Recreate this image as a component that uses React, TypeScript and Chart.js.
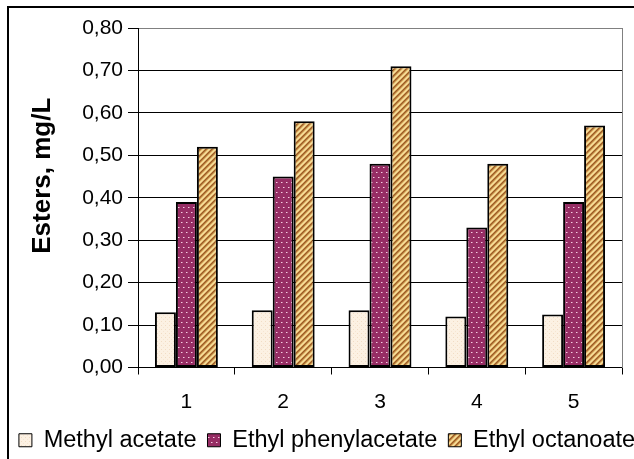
import React, { useEffect, useRef } from "react";
import { Chart, registerables } from "chart.js";

Chart.register(...registerables);

// Samples on the x axis
const categories = ["1", "2", "3", "4", "5"];

// Ester concentrations, mg/L
const methylAcetate = [0.13, 0.135, 0.135, 0.12, 0.125];
const ethylPhenylacetate = [0.39, 0.45, 0.48, 0.33, 0.39];
const ethylOctanoate = [0.52, 0.58, 0.71, 0.48, 0.57];

const seriesNames = ["Methyl acetate", "Ethyl phenylacetate", "Ethyl octanoate"];

// Value axis range
const yMin = 0;
const yMax = 0.8;
const yStep = 0.1;
const yAxisTitle = "Esters, mg/L";

const FONT = "'Liberation Sans', Arial, Helvetica, sans-serif";

function tile(w: number, h: number, paint: (g: CanvasRenderingContext2D) => void): CanvasPattern | string {
  const c = document.createElement("canvas");
  c.width = w;
  c.height = h;
  const g = c.getContext("2d");
  if (!g) return "#ccc";
  paint(g);
  return g.createPattern(c, "repeat") || "#ccc";
}

function px(g: CanvasRenderingContext2D, x: number, y: number, color: string) {
  g.fillStyle = color;
  g.fillRect(x, y, 1, 1);
}

// Light cream fill with faint speckles
function creamFill() {
  return tile(4, 4, (g) => {
    g.fillStyle = "#fcf1e3";
    g.fillRect(0, 0, 4, 4);
    px(g, 1, 1, "#f1dcc4");
    px(g, 3, 3, "#f6e5d2");
  });
}

// Maroon fill with small pale dots
function dottedFill() {
  return tile(5, 10, (g) => {
    g.fillStyle = "#962d64";
    g.fillRect(0, 0, 5, 10);
    px(g, 1, 2, "#f3cfe3");
    px(g, 3, 7, "#f3cfe3");
    px(g, 2, 2, "#c9779f");
    px(g, 4, 7, "#c9779f");
  });
}

// Golden tan fill with diagonal brown stripes
function stripedFill() {
  const shades = ["#9a5c26", "#b27638", "#d6a45a", "#f1d48c", "#f5de9c", "#ddae66"];
  return tile(6, 6, (g) => {
    for (let y = 0; y < 6; y++) {
      for (let x = 0; x < 6; x++) {
        px(g, x, y, shades[(x + y) % 6]);
      }
    }
  });
}

const yTitlePlugin = {
  id: "yTitle",
  afterDraw(chart: any) {
    const { ctx, chartArea } = chart;
    ctx.save();
    ctx.translate(43, (chartArea.top + chartArea.bottom) / 2 - 22);
    ctx.rotate(-Math.PI / 2);
    ctx.font = `bold 26px ${FONT}`;
    ctx.fillStyle = "#000";
    ctx.textAlign = "center";
    ctx.textBaseline = "middle";
    ctx.fillText(yAxisTitle, 0, 0);
    ctx.restore();
  },
};

export default function App() {
  const canvasRef = useRef<HTMLCanvasElement | null>(null);

  useEffect(() => {
    const canvas = canvasRef.current;
    if (!canvas) return;

    const fills = [creamFill(), dottedFill(), stripedFill()];
    const values = [methylAcetate, ethylPhenylacetate, ethylOctanoate];

    const chart = new Chart(canvas, {
      type: "bar",
      data: {
        labels: categories,
        datasets: seriesNames.map((name, i) => ({
          label: name,
          data: values[i],
          backgroundColor: fills[i] as any,
          borderColor: "#000",
          borderWidth: 2,
          borderSkipped: false,
          categoryPercentage: 0.65,
          barPercentage: 1.0,
          yAxisID: "y",
        })),
      },
      options: {
        responsive: false,
        animation: false,
        layout: { padding: { top: 28, left: 0, right: 0, bottom: 0 } },
        plugins: {
          legend: {
            position: "bottom",
            labels: {
              font: { family: FONT, size: 23.5 },
              color: "#000",
              boxWidth: 13,
              boxHeight: 13,
              padding: 11,
              generateLabels(c: any) {
                const items = (Chart.defaults.plugins.legend.labels as any).generateLabels(c);
                items.forEach((it: any) => {
                  it.lineWidth = 1;
                  it.strokeStyle = "#000";
                });
                return items;
              },
            },
          },
          tooltip: { enabled: false },
        },
        scales: {
          x: {
            grid: {
              drawOnChartArea: false,
              drawTicks: true,
              tickLength: 7,
              color: "#000",
              offset: true,
            },
            border: { display: true, color: "#000", width: 1 },
            ticks: { font: { family: FONT, size: 21 }, color: "#000", padding: 15 },
            afterFit(scale: any) {
              scale.height = 50;
            },
          },
          y: {
            position: "left",
            min: yMin,
            max: yMax,
            ticks: {
              stepSize: yStep,
              font: { family: FONT, size: 21 },
              color: "#000",
              padding: 5,
              callback: (v: any) => Number(v).toFixed(2).replace(".", ","),
            },
            grid: {
              color: (ctx: any) =>
                ctx.tick && Math.abs(ctx.tick.value - yMax) < 1e-9 ? "#808080" : "#000",
              tickColor: "#000",
              tickLength: 10,
              lineWidth: 1,
            },
            border: { display: true, color: "#000", width: 1 },
            afterFit(scale: any) {
              scale.width = 138;
            },
          },
          yRight: {
            type: "linear",
            position: "right",
            display: true,
            ticks: { display: false },
            grid: { display: false, drawTicks: false },
            border: { display: true, color: "#808080", width: 1 },
            afterFit(scale: any) {
              scale.width = 32;
            },
          },
        },
      },
      plugins: [yTitlePlugin],
    } as any);

    return () => chart.destroy();
  }, []);

  return (
    <div
      style={{
        position: "fixed",
        left: 0,
        top: 0,
        width: 634,
        height: 459,
        overflow: "hidden",
        background: "#fff",
      }}
    >
      <div
        style={{
          position: "absolute",
          left: 7,
          top: 6,
          width: 700,
          height: 520,
          border: "2px solid #000",
          boxSizing: "border-box",
        }}
      />
      <canvas
        ref={canvasRef}
        width={654}
        height={462}
        style={{ position: "absolute", left: 0, top: 0 }}
      />
    </div>
  );
}
